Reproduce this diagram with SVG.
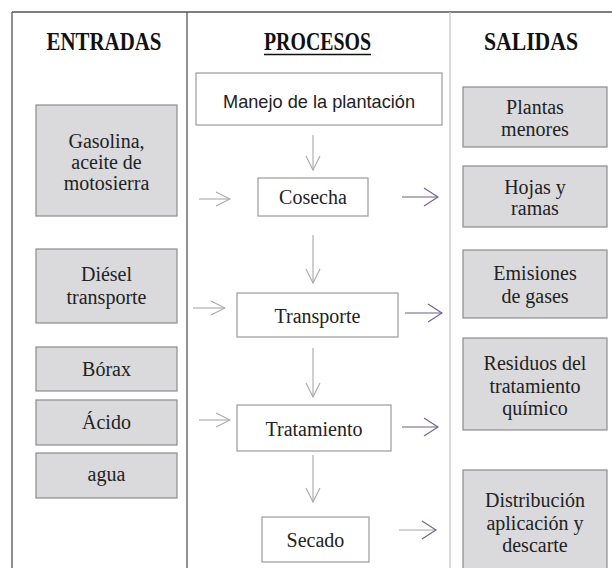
<svg xmlns="http://www.w3.org/2000/svg" width="612" height="568" viewBox="0 0 612 568">
<style>
.t{font-family:"Liberation Serif","Times New Roman",serif;font-size:20px;fill:#222;text-anchor:middle}
.h{font-family:"Liberation Serif","Times New Roman",serif;font-size:26px;font-weight:bold;fill:#111;text-anchor:middle}
.s{font-family:"Liberation Sans",Arial,sans-serif;font-size:19px;fill:#222;text-anchor:middle}
.in{fill:#dadadc;stroke:#8c8c8c;stroke-width:1.2}
.pr{fill:#fff;stroke:#9a9a9a;stroke-width:1.2}
.g{stroke:#a8a8a8;stroke-width:1.1;fill:none}
.p{stroke:#6e5f8e;stroke-width:1.1;fill:none}
</style>
<defs>
<marker id="ag" viewBox="0 0 16 16" refX="15" refY="8" markerWidth="16" markerHeight="16" markerUnits="userSpaceOnUse" orient="auto"><path d="M1,1 L15,8 L1,15" fill="none" stroke="#a8a8a8" stroke-width="1.1"/></marker>
<marker id="ap" viewBox="0 0 16 20" refX="15" refY="10" markerWidth="16" markerHeight="20" markerUnits="userSpaceOnUse" orient="auto"><path d="M1,1 L15,10 L1,19" fill="none" stroke="#6e5f8e" stroke-width="1.1"/></marker>
</defs>
<rect width="612" height="568" fill="#fff"/>
<g id="frame">
<line x1="12" y1="12" x2="612" y2="12" stroke="#555" stroke-width="1.3"/>
<line x1="12" y1="12" x2="12" y2="568" stroke="#555" stroke-width="1.3"/>
<line x1="187" y1="12" x2="187" y2="568" stroke="#555" stroke-width="1.3"/>
<line x1="450" y1="12" x2="450" y2="568" stroke="#c8c8c8" stroke-width="1.3"/>
</g>
<g id="headers">
<text class="h" x="104" y="50" textLength="115" lengthAdjust="spacingAndGlyphs">ENTRADAS</text>
<text class="h" x="317.5" y="50" textLength="107" lengthAdjust="spacingAndGlyphs">PROCESOS</text>
<line x1="264" y1="54.5" x2="371" y2="54.5" stroke="#111" stroke-width="1.5"/>
<text class="h" x="531" y="50" textLength="94" lengthAdjust="spacingAndGlyphs">SALIDAS</text>
</g>
<g id="in-gasolina"><rect class="in" x="36" y="105" width="141" height="111"/>
<text class="t" x="106.5" y="148">Gasolina,</text><text class="t" x="106.5" y="169">aceite de</text><text class="t" x="106.5" y="190">motosierra</text></g>
<g id="in-diesel"><rect class="in" x="36" y="249" width="141" height="74"/>
<text class="t" x="106.5" y="281">Diésel</text><text class="t" x="106.5" y="304">transporte</text></g>
<g id="in-borax"><rect class="in" x="36" y="347" width="141" height="44"/>
<text class="t" x="106.5" y="376">Bórax</text></g>
<g id="in-acido"><rect class="in" x="36" y="400" width="141" height="45"/>
<text class="t" x="106.5" y="429">Ácido</text></g>
<g id="in-agua"><rect class="in" x="36" y="453" width="141" height="45"/>
<text class="t" x="106.5" y="481">agua</text></g>
<g id="p-manejo"><rect class="pr" x="196" y="73" width="246" height="52"/>
<text class="s" x="319" y="108" textLength="192" lengthAdjust="spacingAndGlyphs">Manejo de la plantación</text></g>
<g id="p-cosecha"><rect class="pr" x="258" y="178" width="110" height="38"/>
<text class="t" x="313" y="204">Cosecha</text></g>
<g id="p-transporte"><rect class="pr" x="237" y="293" width="161" height="44"/>
<text class="t" x="317.5" y="323">Transporte</text></g>
<g id="p-tratamiento"><rect class="pr" x="237" y="405" width="154" height="46"/>
<text class="t" x="314" y="436">Tratamiento</text></g>
<g id="p-secado"><rect class="pr" x="262" y="517" width="107" height="45"/>
<text class="t" x="315.5" y="547">Secado</text></g>
<g id="out-plantas"><rect class="in" x="463" y="87" width="144" height="60"/>
<text class="t" x="535" y="114">Plantas</text><text class="t" x="535" y="136">menores</text></g>
<g id="out-hojas"><rect class="in" x="463" y="166" width="144" height="61"/>
<text class="t" x="535" y="194">Hojas y</text><text class="t" x="535" y="215">ramas</text></g>
<g id="out-emisiones"><rect class="in" x="463" y="250" width="144" height="68"/>
<text class="t" x="535" y="280">Emisiones</text><text class="t" x="535" y="303">de gases</text></g>
<g id="out-residuos"><rect class="in" x="463" y="338" width="144" height="92"/>
<text class="t" x="535" y="370">Residuos del</text><text class="t" x="535" y="393">tratamiento</text><text class="t" x="535" y="415">químico</text></g>
<g id="out-distribucion"><rect class="in" x="463" y="470" width="144" height="110"/>
<text class="t" x="535" y="507">Distribución</text><text class="t" x="535" y="530">aplicación y</text><text class="t" x="535" y="552">descarte</text></g>
<g id="connectors">
<line class="g" x1="313" y1="135" x2="313" y2="170" marker-end="url(#ag)"/>
<line class="g" x1="313" y1="235" x2="313" y2="283" marker-end="url(#ag)"/>
<line class="g" x1="313" y1="348" x2="313" y2="397" marker-end="url(#ag)"/>
<line class="g" x1="313" y1="455" x2="313" y2="502" marker-end="url(#ag)"/>
<line class="g" x1="199" y1="199" x2="230" y2="199" marker-end="url(#ag)"/>
<line class="g" x1="193" y1="308" x2="225" y2="308" marker-end="url(#ag)"/>
<line class="g" x1="199" y1="420" x2="230" y2="420" marker-end="url(#ag)"/>
<line class="p" x1="402" y1="197" x2="438" y2="197" marker-end="url(#ap)"/>
<line class="p" x1="405" y1="313" x2="442" y2="313" marker-end="url(#ap)"/>
<line class="p" x1="402" y1="427" x2="438" y2="427" marker-end="url(#ap)"/>
<line class="g" x1="399" y1="530" x2="436" y2="530" marker-end="url(#ap)"/>
</g>
</svg>
